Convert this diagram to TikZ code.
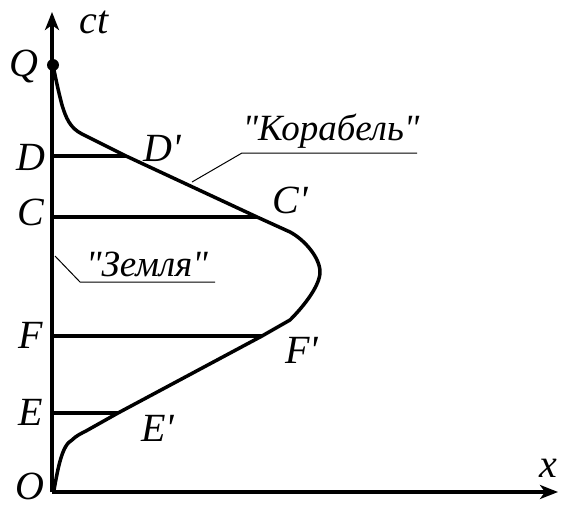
\documentclass[tikz,border=0pt]{standalone}
\usepackage{fontspec}
\setmainfont{Liberation Serif}[Ligatures=TeXOff]
\usetikzlibrary{arrows.meta}
\begin{document}
\begin{tikzpicture}[x=1pt,y=-1pt,
  lbl/.style={font=\fontsize{40}{46}\selectfont\itshape, inner sep=0pt},
  tag/.style={font=\fontsize{37}{42}\selectfont\itshape, inner sep=0pt},
  axis/.style={line width=3.5pt, -{Stealth[length=18pt,width=14pt,inset=5pt]}},
  thick line/.style={line width=3.5pt},
  worldline/.style={line width=3.5pt, line join=round, line cap=round},
  leader/.style={line width=1pt}]
\useasboundingbox (0,0) rectangle (568,509);
% axes
\coordinate (O) at (52,492);
\coordinate (ytop) at (52,12);
\coordinate (xend) at (558,492);
\draw[axis] (O) -- (ytop);
\draw[axis] (O) -- (xend);
% event points
\coordinate (Q) at (53,65);
\coordinate (D) at (52,156);
\coordinate (Dp) at (126,156);
\coordinate (C) at (52,217);
\coordinate (Cp) at (257,217);
\coordinate (F) at (52,336);
\coordinate (Fp) at (262,336);
\coordinate (E) at (52,413);
\coordinate (Ep) at (118,413);
% horizontal lines
\draw[thick line] (D) -- (Dp);
\draw[thick line] (C) -- (Cp);
\draw[thick line] (F) -- (Fp);
\draw[thick line] (E) -- (Ep);
% world line of the ship
\draw[worldline] (54,490) .. controls (58,468) and (62,445) .. (72,440)
  .. controls (76,436) and (80,434) .. (86,431)
  -- (Ep) -- (Fp) -- (290,320)
  .. controls (305,305) and (320,285) .. (320,272)
  .. controls (320,258) and (305,240) .. (290,232)
  -- (Cp) -- (Dp) -- (82,134)
  .. controls (70,128) and (66,118) .. (62,105)
  .. controls (58,90) and (55,75) .. (Q);
\fill (Q) circle (6pt);
% labels
\node[lbl] (lQ) at (24,66) {Q};
\node[lbl] (lct) at (94,22) {ct};
\node[lbl] (lD) at (31,157) {D};
\node[lbl] (lDp) at (162,148) {D'};
\node[lbl] (lC) at (31,212) {C};
\node[lbl] (lCp) at (290,200) {C'};
\node[lbl] (lF) at (31,335) {F};
\node[lbl] (lFp) at (302,350) {F'};
\node[lbl] (lE) at (31,412) {E};
\node[lbl] (lEp) at (158,428) {E'};
\node[lbl] (lO) at (30,486) {O};
\node[lbl] (lx) at (548,468) {x};
% leaders
\node[tag] (ship) at (331,131) {"Корабель"};
\coordinate (s1) at (192,182);
\coordinate (s2) at (242,153);
\coordinate (s3) at (417,153);
\draw[leader] (s1) -- (s2) -- (s3);
\node[tag] (earth) at (147,264) {"Земля"};
\coordinate (e1) at (55,256);
\coordinate (e2) at (80,282);
\coordinate (e3) at (215,282);
\draw[leader] (e1) -- (e2) -- (e3);
\end{tikzpicture}
\end{document}
